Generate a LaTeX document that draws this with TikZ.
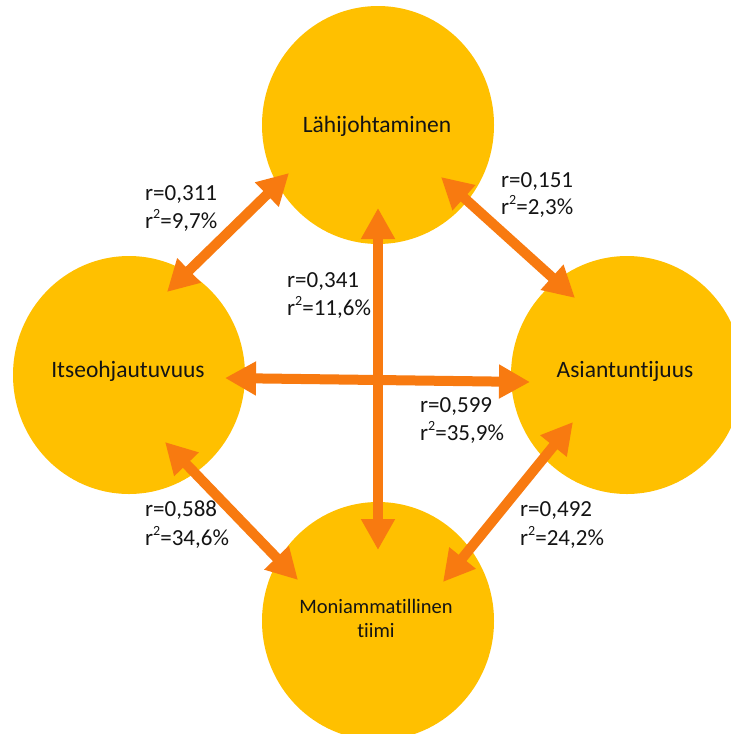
\documentclass[tikz,border=0pt]{standalone}
\usepackage{fontspec}
\setmainfont[Ligatures={NoCommon,NoRare,NoContextual}]{Carlito}
\usetikzlibrary{shapes.geometric,arrows.meta}
\definecolor{gold}{RGB}{255,192,0}
\definecolor{arr}{RGB}{248,122,16}
\definecolor{txt}{RGB}{20,20,20}
\newcommand{\rsq}{r\raisebox{0.42em}{\fontsize{14}{14}\selectfont 2}}
\tikzset{
  blob/.style={ellipse,fill=gold,draw=none,minimum width=232pt,minimum height=238pt,inner sep=0pt},
  biarrow/.style={draw=arr,line width=10pt,{Triangle[width=32pt,length=31pt]}-{Triangle[width=32pt,length=31pt]}},
  lab/.style={anchor=base west,inner sep=0pt,text=txt,font=\fontsize{23}{27}\selectfont},
  ctext/.style={anchor=base,inner sep=0pt,text=txt,font=\fontsize{23.5}{27}\selectfont}
}
\begin{document}
\begin{tikzpicture}[x=1pt,y=-1pt]
\useasboundingbox (0,0) rectangle (731,734);
\clip (0,0) rectangle (731,734);
\fill[white] (0,0) rectangle (731,734);
% ellipses
\node[blob] (top) at (378,125) {};
\node[blob] (left) at (129,375) {};
\node[blob] (right) at (627,375) {};
\node[blob] (bot) at (378,621) {};
% texts
\node[ctext] (ttop) at (377,132) {Lähijohtaminen};
\node[ctext] (tleft) at (128,377) {Itseohjautuvuus};
\node[ctext] (tright) at (625,377) {Asiantuntijuus};
\node[ctext,font=\fontsize{20.5}{24}\selectfont] (tbot1) at (376,613) {Moniammatillinen};
\node[ctext,font=\fontsize{20.5}{24}\selectfont] (tbot2) at (376,637) {tiimi};
% arrow end points
\coordinate (tlA) at (167,292);
\coordinate (tlB) at (289,173);
\coordinate (trA) at (441,177);
\coordinate (trB) at (575,298);
\coordinate (vA) at (378,208);
\coordinate (vB) at (378,550);
\coordinate (hA) at (225,378);
\coordinate (hB) at (530,382);
\coordinate (blA) at (165,442);
\coordinate (blB) at (298,580);
\coordinate (brA) at (573,422);
\coordinate (brB) at (443,582);
% arrows
\draw[biarrow] (hA) -- (hB);
\draw[biarrow] (vA) -- (vB);
\draw[biarrow] (tlA) -- (tlB);
\draw[biarrow] (trA) -- (trB);
\draw[biarrow] (blA) -- (blB);
\draw[biarrow] (brA) -- (brB);
% labels
\node[lab] (l1a) at (145,200) {r=0,311};
\node[lab] (l1b) at (145,228) {\rsq=9,7\%};
\node[lab] (l2a) at (501,187) {r=0,151};
\node[lab] (l2b) at (501,214) {\rsq=2,3\%};
\node[lab] (l3a) at (287,287) {r=0,341};
\node[lab] (l3b) at (287,315) {\rsq=11,6\%};
\node[lab] (l4a) at (420,412) {r=0,599};
\node[lab] (l4b) at (420,440) {\rsq=35,9\%};
\node[lab] (l5a) at (145,516) {r=0,588};
\node[lab] (l5b) at (145,545) {\rsq=34,6\%};
\node[lab] (l6a) at (520,516) {r=0,492};
\node[lab] (l6b) at (520,545) {\rsq=24,2\%};
\end{tikzpicture}
\end{document}
